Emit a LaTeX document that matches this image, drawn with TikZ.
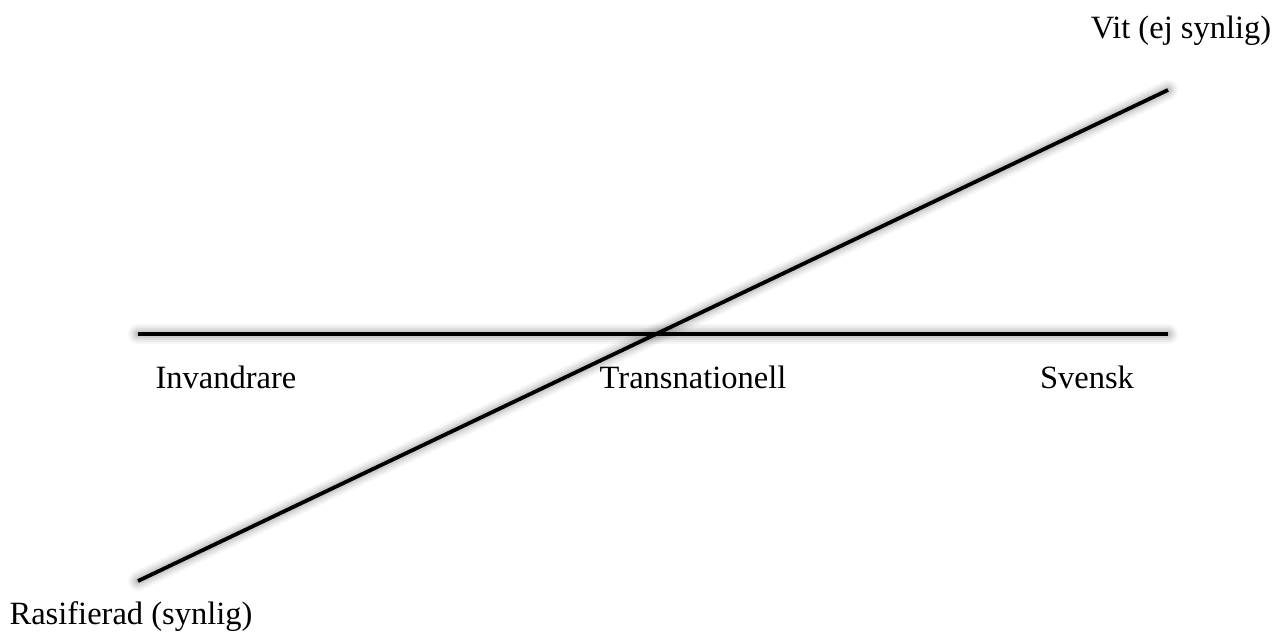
\documentclass[tikz,border=0pt]{standalone}
\usepackage{fontspec}
\setmainfont{Liberation Serif}
\begin{document}
\begin{tikzpicture}[x=1pt,y=-1pt,
  axis/.style={line width=3.8pt, black},
  soft/.style={line cap=round, draw=black, draw opacity=#1},
  lbl/.style={inner sep=0pt, font=\fontsize{32.5}{38}\selectfont}]
  \useasboundingbox[fill=white] (0,0) rectangle (1277,636);

  % end points of the two axes
  \coordinate (hl) at (138,334);
  \coordinate (hr) at (1168,334);
  \coordinate (dl) at (138,581);
  \coordinate (dr) at (1168,90);

  % soft drop shadow under both axes
  \foreach \w/\o in {20/0.035, 16/0.045, 12/0.055, 8/0.07, 4/0.08} {
    \draw[soft=\o, line width=\w pt, shift={(3,10)}] (hl) -- (hr);
    \draw[soft=\o, line width=\w pt, shift={(5,10)}] (dl) -- (dr);
  }

  % the axes
  \draw[axis] (hl) -- (hr);
  \draw[axis] (dl) -- (dr);

  % labels
  \node[lbl] (inv) at (226,377) {Invandrare};
  \node[lbl] (trans) at (693,377) {Transnationell};
  \node[lbl] (sv) at (1087,377) {Svensk};
  \node[lbl] (vit) at (1181,31) {Vit (ej synlig)};
  \node[lbl] (ras) at (131,617) {Rasifierad (synlig)};
\end{tikzpicture}
\end{document}
